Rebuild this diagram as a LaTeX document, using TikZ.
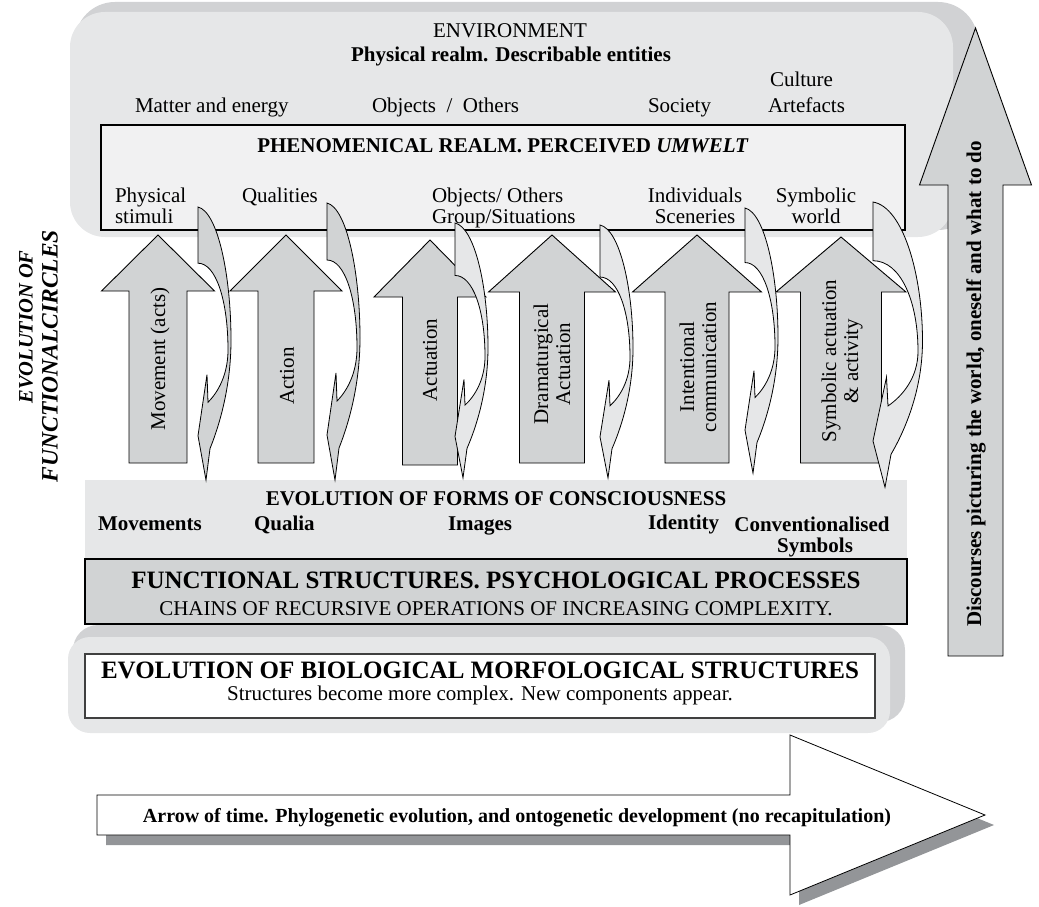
\documentclass[tikz,border=0pt]{standalone}
\usepackage{fontspec}
\setmainfont{Liberation Serif}
\definecolor{envlight}{HTML}{E6E7E8}
\definecolor{envdark}{HTML}{D1D2D4}
\definecolor{phenfill}{HTML}{F1F1F2}
\definecolor{arrowgray}{HTML}{D1D3D4}
\definecolor{curvelight}{HTML}{E6E7E8}
\definecolor{funcgray}{HTML}{D1D3D4}
\definecolor{timeshade}{HTML}{939598}

% vertical block arrow: name, centre x, tip y, head base y, head half width, shaft half width, bottom y
\newcommand\drawuparrow[7]{%
  \draw[straightarrow] (#2,#3) -- (#2+#5,#4) -- (#2+#6,#4) -- (#2+#6,#7)
    -- (#2-#6,#7) -- (#2-#6,#4) -- (#2-#5,#4) -- cycle;
  \coordinate (#1) at (#2,#3);}

% curved band arrow turning down: top-left x, y, x scale, y scale, fill
\newcommand\loopedarrow[5]{%
  \begin{scope}[shift={(#1,#2)}, xscale=#3, yscale=#4]
    \draw[curvestyle, fill=#5] (0,0) .. controls (20,5) and (33,70) .. (33,135)
      .. controls (33,185) and (20,225) .. (12,245) -- (8,277) -- (0,232)
      -- (9,170) -- (10,198) .. controls (20,188) and (30,170) .. (30,145)
      .. controls (30,95) and (18,57) .. (0,57) -- cycle;
  \end{scope}}

\begin{document}
\begin{tikzpicture}[x=1pt,y=-1pt,
  every node/.style={inner sep=0pt, outer sep=0pt},
  lbl/.style={font=\fontsize{21}{22}\selectfont},
  blbl/.style={font=\fontsize{21}{22}\selectfont\bfseries},
  headline/.style={font=\fontsize{25}{27}\selectfont\bfseries},
  straightarrow/.style={draw=black, line width=0.9pt, fill=arrowgray, line join=miter},
  curvestyle/.style={draw=black, line width=0.8pt, line join=miter},
]
\useasboundingbox (0,0) rectangle (1039,907);

% ---------- environment ----------
\fill[envdark, rounded corners=40pt] (75,2) rectangle (978,230);
\fill[envlight, rounded corners=35pt] (70,12) rectangle (953,237);

\node[lbl, anchor=base] (env) at (510,38) {ENVIRONMENT};
\node[blbl, anchor=base] (phys) at (511,62) {Physical realm. Describable entities};
\node[lbl, anchor=base west] (matter) at (135,113) {Matter and energy};
\node[lbl, anchor=base west] (objects) at (372,113) {Objects\ \ /\ \ Others};
\node[lbl, anchor=base west] (society) at (648,113) {Society};
\node[lbl, anchor=base west] (culture) at (770,87) {Culture};
\node[lbl, anchor=base west] (artefacts) at (768,112) {Artefacts};

% ---------- phenomenical realm ----------
\draw[fill=phenfill, line width=1.5pt] (101,125) rectangle (905,230);
\node[blbl, anchor=base] (phen) at (503,152) {PHENOMENICAL REALM. PERCEIVED \textit{UMWELT}};
\node[lbl, anchor=base west] (stim1) at (115,202) {Physical};
\node[lbl, anchor=base west] (stim2) at (115,223) {stimuli};
\node[lbl, anchor=base west] (qual) at (242,202) {Qualities};
\node[lbl, anchor=base west] (objs1) at (432,202) {Objects/ Others};
\node[lbl, anchor=base west] (objs2) at (432,223) {Group/Situations};
\node[lbl, anchor=base] (indiv1) at (695,202) {Individuals};
\node[lbl, anchor=base] (indiv2) at (695,223) {Sceneries};
\node[lbl, anchor=base] (symw1) at (816,202) {Symbolic};
\node[lbl, anchor=base] (symw2) at (816,223) {world};

% ---------- functional circles: straight arrows ----------
\drawuparrow{a1}{158}{235}{291}{56.5}{29}{463}
\drawuparrow{a2}{286}{235}{291}{56}{28}{463}
\drawuparrow{a3}{430}{240}{297}{56}{27.5}{465}
\drawuparrow{a4}{552}{235}{292}{63.5}{32.5}{463}
\drawuparrow{a5}{697}{235}{292}{64.5}{32}{463}
\drawuparrow{a6}{841}{237}{292}{65}{40.5}{463}

\node[lbl, rotate=90] (t1) at (160,359) {Movement (acts)};
\node[lbl, rotate=90] (t2) at (287,376) {Action};
\node[lbl, rotate=90] (t3) at (430,360) {Actuation};
\node[lbl, rotate=90, align=center] (t4) at (552,364) {Dramaturgical\\Actuation};
\node[lbl, rotate=90, align=center] (t5) at (698,367) {Intentional\\communication};
\node[lbl, rotate=90, align=center] (t6) at (842,361) {Symbolic actuation\\\& activity};

% ---------- forms of consciousness ----------
\fill[envlight] (85,480) rectangle (907,558);
\node[blbl, anchor=base] (cons) at (496,505) {EVOLUTION OF FORMS OF CONSCIOUSNESS};
\node[blbl, anchor=base west] (mov) at (98,530) {Movements};
\node[blbl, anchor=base west] (qualia) at (254,530) {Qualia};
\node[blbl, anchor=base west] (img) at (448,530) {Images};
\node[blbl, anchor=base west] (ident) at (648,529) {Identity};
\node[blbl, anchor=base] (conv1) at (812,531) {Conventionalised};
\node[blbl, anchor=base] (conv2) at (815,552) {Symbols};

% ---------- curved feedback arrows ----------
\loopedarrow{198}{207}{1}{0.986}{arrowgray}
\loopedarrow{327}{203}{1}{1}{arrowgray}
\loopedarrow{455}{223}{1}{0.92}{curvelight}
\loopedarrow{600}{225}{1}{0.913}{curvelight}
\loopedarrow{745}{208}{1}{0.957}{curvelight}
\loopedarrow{873}{202}{1.5}{1.03}{curvelight}

% ---------- functional structures ----------
\draw[fill=funcgray, line width=2.5pt] (85,559) rectangle (907,624);
\node[headline, anchor=base] (func) at (496,588) {FUNCTIONAL STRUCTURES. PSYCHOLOGICAL PROCESSES};
\node[lbl, anchor=base] (chains) at (496,615) {CHAINS OF RECURSIVE OPERATIONS OF INCREASING COMPLEXITY.};

% ---------- biological structures ----------
\fill[envdark, rounded corners=25pt] (73,625) rectangle (905,722);
\fill[envlight, rounded corners=22pt] (68,637) rectangle (890,733);
\draw[fill=white, draw=black!75, line width=1.5pt] (85,654) rectangle (875,718);
\node[headline, anchor=base] (bio) at (480,678) {EVOLUTION OF BIOLOGICAL MORFOLOGICAL STRUCTURES};
\node[lbl, anchor=base] (biosub) at (480,700) {Structures become more complex. New components appear.};

% ---------- arrow of time ----------
\fill[timeshade] (106,805) -- (799,805) -- (799,745) -- (994,825) -- (799,905)
  -- (799,845) -- (106,845) -- cycle;
\draw[fill=white, line width=0.8pt, line join=miter] (97,795) -- (790,795) -- (790,735)
  -- (985,815) -- (790,895) -- (790,835) -- (97,835) -- cycle;
\node[font=\fontsize{20}{22}\selectfont\bfseries, anchor=base] (time) at (517,822)
  {Arrow of time. Phylogenetic evolution, and ontogenetic development (no recapitulation)};

% ---------- discourses ----------
\drawuparrow{disc}{975.5}{28}{185}{56}{27.5}{656}
\node[blbl, rotate=90] (disctext) at (976,384) {Discourses picturing the world, oneself and what to do};

% ---------- side title ----------
\node[font=\fontsize{20.5}{22}\selectfont\bfseries\itshape, rotate=90] (evo1) at (26,327) {EVOLUTION OF};
\node[font=\fontsize{23.5}{24}\selectfont\bfseries\itshape, rotate=90] (evo2) at (50,356) {FUNCTIONALCIRCLES};
\end{tikzpicture}
\end{document}
